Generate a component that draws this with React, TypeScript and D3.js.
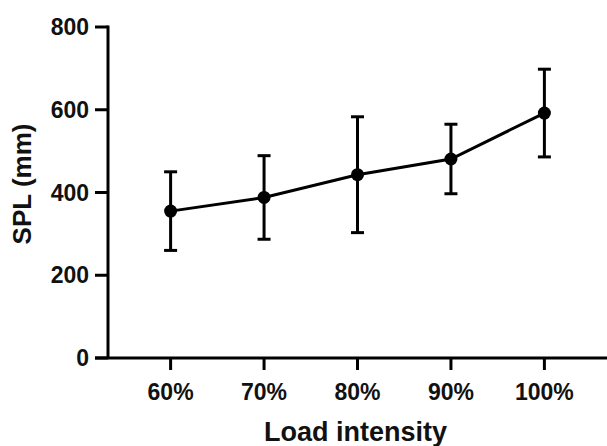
import React from "react";
import * as d3 from "d3";

const categories = ["60%", "70%", "80%", "90%", "100%"];
const means = [355, 388, 443, 481, 592];
const sds = [95, 101, 140, 84, 106];
const yTicks = [0, 200, 400, 600, 800];

const W = 607;
const H = 446;
const left = 108;
const right = 607;
const top = 27;
const bottom = 358;

export default function App() {
  const x = d3.scalePoint<string>().domain(categories).range([left, right]).padding(0.67);
  const y = d3.scaleLinear().domain([0, 800]).range([bottom, top]);

  const data = categories.map((c, i) => ({ c, m: means[i], sd: sds[i] }));
  const line = d3
    .line<{ c: string; m: number }>()
    .x((d) => x(d.c) as number)
    .y((d) => y(d.m));

  const font = "'Liberation Sans', Arial, sans-serif";

  return (
    <svg
      width={W}
      height={H}
      style={{ position: "absolute", left: 0, top: 0, background: "#fff" }}
      fontFamily={font}
      fontWeight="bold"
    >
      {/* axes */}
      <line x1={95} x2={right} y1={bottom} y2={bottom} stroke="#000" strokeWidth={3} />
      <line x1={left} x2={left} y1={top - 1.5} y2={bottom} stroke="#000" strokeWidth={3} />
      {yTicks.map((t) => (
        <g key={t}>
          <line x1={95} x2={left} y1={y(t)} y2={y(t)} stroke="#000" strokeWidth={3} />
          <text x={89} y={y(t)} dy="0.35em" textAnchor="end" fontSize={23} fill="#111">
            {t}
          </text>
        </g>
      ))}
      {categories.map((c) => (
        <g key={c}>
          <line x1={x(c)} x2={x(c)} y1={bottom} y2={bottom + 12} stroke="#000" strokeWidth={3} />
          <text x={x(c)} y={bottom + 34} dy="0.35em" textAnchor="middle" fontSize={23} fill="#111">
            {c}
          </text>
        </g>
      ))}
      <text x={(left + right) / 2 - 2} y={432} dy="0.35em" textAnchor="middle" fontSize={27} fill="#111">
        Load intensity
      </text>
      <text
        transform={`translate(22,184) rotate(-90)`}
        dy="0.35em"
        textAnchor="middle"
        fontSize={26}
        fill="#111"
      >
        SPL (mm)
      </text>

      {/* error bars */}
      {data.map((d) => {
        const cx = x(d.c) as number;
        return (
          <g key={d.c} stroke="#000" strokeWidth={3}>
            <line x1={cx} x2={cx} y1={y(d.m + d.sd)} y2={y(d.m - d.sd)} />
            <line x1={cx - 6.5} x2={cx + 6.5} y1={y(d.m + d.sd)} y2={y(d.m + d.sd)} />
            <line x1={cx - 6.5} x2={cx + 6.5} y1={y(d.m - d.sd)} y2={y(d.m - d.sd)} />
          </g>
        );
      })}
      <path d={line(data) as string} fill="none" stroke="#000" strokeWidth={3} />
      {data.map((d) => (
        <circle key={d.c} cx={x(d.c)} cy={y(d.m)} r={6.5} fill="#000" />
      ))}
    </svg>
  );
}
